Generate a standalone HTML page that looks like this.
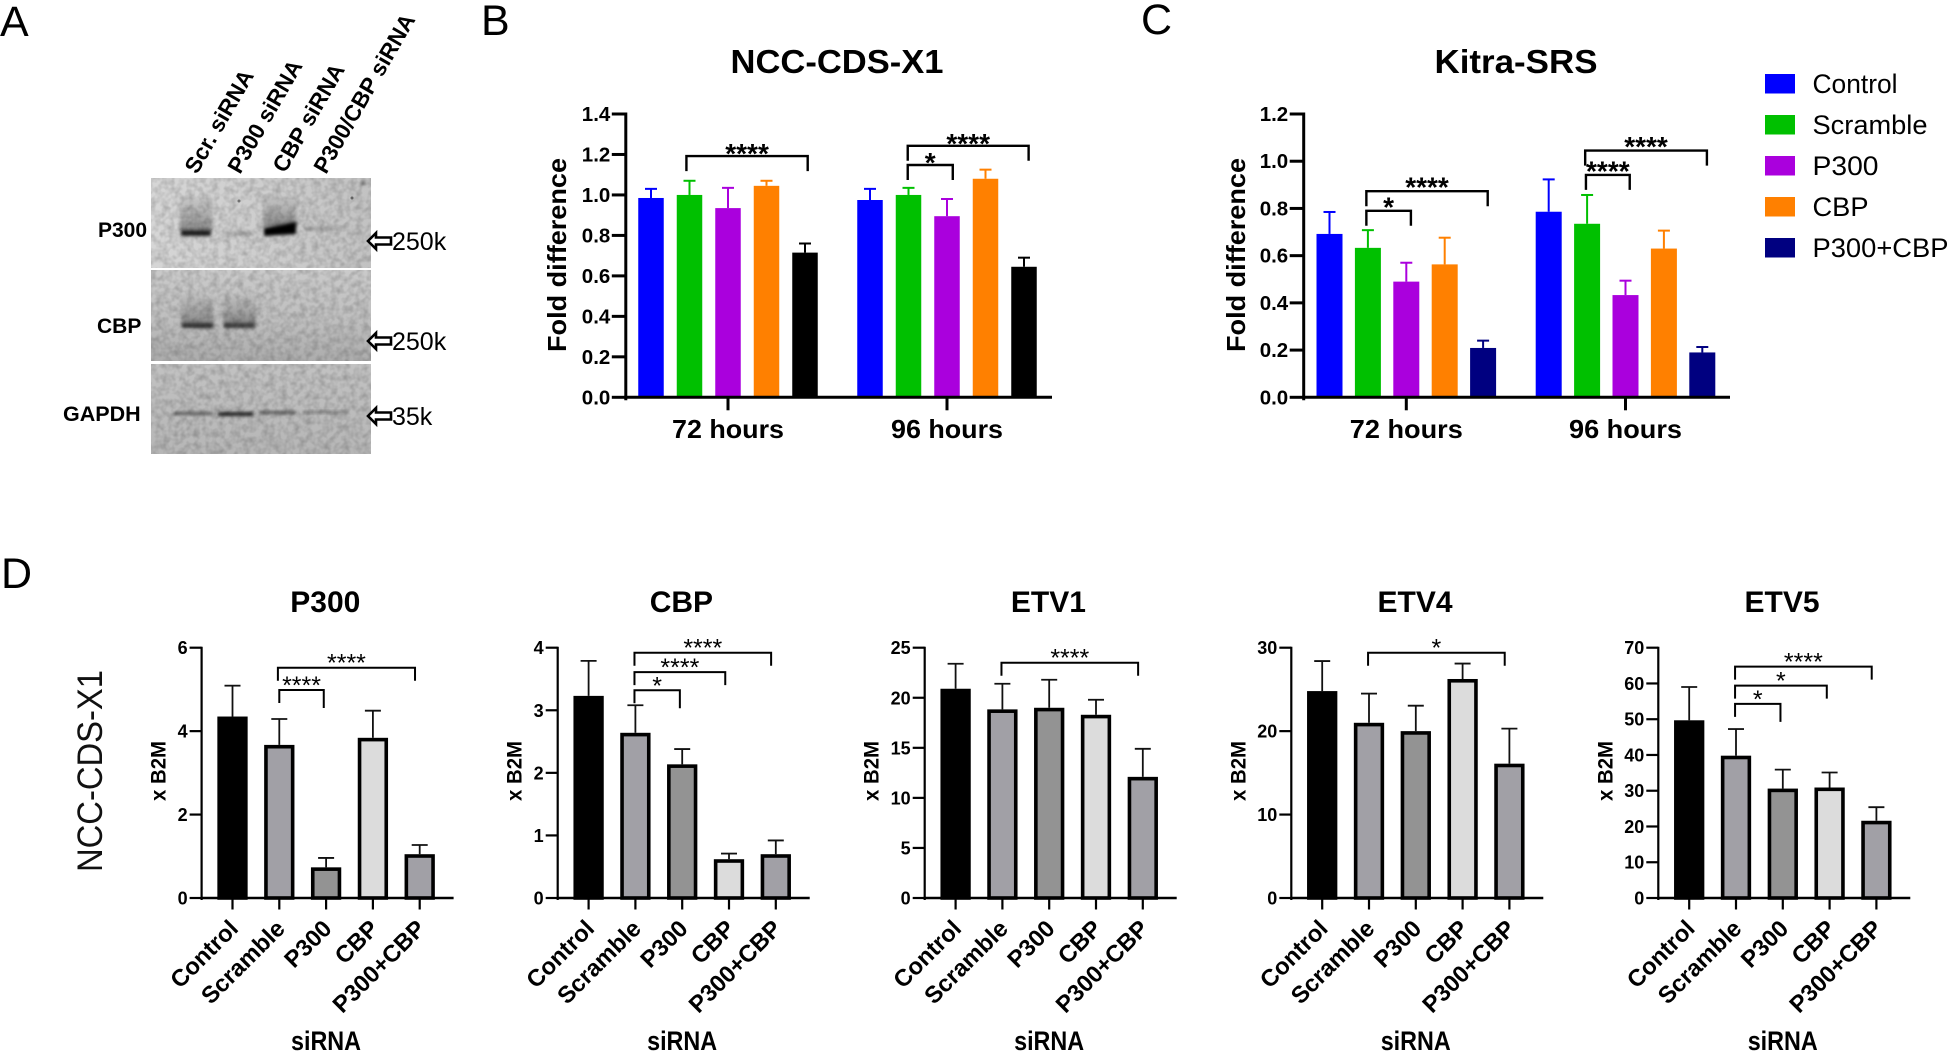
<!DOCTYPE html>
<html lang="en">
<head>
<meta charset="utf-8">
<title>NCC-CDS-X1 and Kitra-SRS siRNA figure</title>
<style>
html,body{margin:0;padding:0;background:#fff;width:1950px;height:1051px;overflow:hidden}
svg{display:block}
text{font-family:"Liberation Sans",Arial,sans-serif;fill:#000}
.b{font-weight:bold}
</style>
</head>
<body>
<svg id="figure" xmlns="http://www.w3.org/2000/svg" width="1950" height="1051" viewBox="0 0 1950 1051">
  <defs>
    <filter id="blur2" x="-30%" y="-80%" width="160%" height="260%"><feGaussianBlur stdDeviation="1.5"/></filter>
    <filter id="blur4" x="-30%" y="-60%" width="160%" height="220%"><feGaussianBlur stdDeviation="3.5"/></filter>
    <filter id="grain" x="0" y="0" width="100%" height="100%" color-interpolation-filters="sRGB">
      <feTurbulence type="fractalNoise" baseFrequency="0.16" numOctaves="2" seed="4"/>
      <feColorMatrix type="matrix" values="0 0 0 0 0  0 0 0 0 0  0 0 0 0 0  0.35 0 0 0 -0.12"/>
    </filter>
    <linearGradient id="g1" x1="0" y1="0" x2="1" y2="0"><stop offset="0" stop-color="#d6d6d6"/><stop offset=".5" stop-color="#cecece"/><stop offset="1" stop-color="#c2c2c2"/></linearGradient>
    <linearGradient id="g2" x1="0" y1="0" x2="0" y2="1"><stop offset="0" stop-color="#cacaca"/><stop offset=".55" stop-color="#bfbfbf"/><stop offset="1" stop-color="#acacac"/></linearGradient>
    <linearGradient id="g3" x1="0" y1="0" x2="0" y2="1"><stop offset="0" stop-color="#c2c2c2"/><stop offset=".6" stop-color="#bbbbbb"/><stop offset="1" stop-color="#b6b6b6"/></linearGradient>
    <linearGradient id="smear" x1="0" y1="0" x2="0" y2="1"><stop offset="0" stop-color="#aaa" stop-opacity=".3"/><stop offset="1" stop-color="#777" stop-opacity=".85"/></linearGradient>
    <clipPath id="c1"><rect x="151" y="178" width="220" height="90"/></clipPath>
    <clipPath id="c2"><rect x="151" y="270" width="220" height="91"/></clipPath>
    <clipPath id="c3"><rect x="151" y="364" width="220" height="90"/></clipPath>
  </defs>

  <g>
    <text x="0" y="36" font-size="43">A</text>
    <text x="481" y="35" font-size="43">B</text>
    <text x="1141" y="34" font-size="43">C</text>
    <text x="1" y="588" font-size="43">D</text>
  </g>

  <g id="western-blot">
    <g class="b" font-size="22.5" font-weight="bold">
      <text class="b" transform="translate(197,175) rotate(-60)">Scr. siRNA</text>
      <text class="b" transform="translate(240,175) rotate(-60)">P300 siRNA</text>
      <text class="b" transform="translate(285,174) rotate(-60)">CBP siRNA</text>
      <text class="b" transform="translate(326,175) rotate(-60)">P300/CBP siRNA</text>
    </g>

    <g clip-path="url(#c1)">
      <rect x="151" y="178" width="220" height="90" fill="url(#g1)"/>
      <rect x="180" y="197" width="32" height="34" fill="url(#smear)" filter="url(#blur2)"/>
      <rect x="263" y="197" width="34" height="30" fill="url(#smear)" filter="url(#blur2)"/>
      <rect x="181" y="230" width="30" height="6" fill="#1c1c1c" filter="url(#blur2)"/>
      <path d="M264 228 L296 222 L296 234 L264 236 Z" fill="#000" filter="url(#blur2)"/>
      <rect x="224" y="231" width="30" height="5" fill="#adadad" filter="url(#blur2)"/>
      <rect x="304" y="226" width="38" height="5" fill="#a8a8a8" filter="url(#blur2)"/>
      <circle cx="363" cy="183" r="2" fill="#555" filter="url(#blur2)"/>
      <circle cx="352" cy="198" r="1.5" fill="#666"/>
      <circle cx="239" cy="201" r="1.5" fill="#777"/>
      <rect x="151" y="178" width="220" height="90" filter="url(#grain)"/>
    </g>
    <g clip-path="url(#c2)">
      <rect x="151" y="270" width="220" height="91" fill="url(#g2)"/>
      <rect x="181" y="295" width="33" height="30" fill="url(#smear)" filter="url(#blur2)"/>
      <rect x="223" y="295" width="33" height="30" fill="url(#smear)" filter="url(#blur2)"/>
      <rect x="182" y="323" width="31" height="5" fill="#333" filter="url(#blur2)"/>
      <rect x="224" y="323" width="31" height="5" fill="#3a3a3a" filter="url(#blur2)"/>
      <rect x="151" y="270" width="220" height="91" filter="url(#grain)"/>
    </g>
    <g clip-path="url(#c3)">
      <rect x="151" y="364" width="220" height="90" fill="url(#g3)"/>
      <rect x="174" y="412" width="38" height="3" fill="#555" filter="url(#blur2)"/>
      <rect x="218" y="412" width="35" height="4" fill="#222" filter="url(#blur2)"/>
      <rect x="259" y="411" width="37" height="3" fill="#555" filter="url(#blur2)"/>
      <rect x="303" y="411" width="44" height="2.5" fill="#777" filter="url(#blur2)"/>
      <rect x="151" y="364" width="220" height="90" filter="url(#grain)"/>
    </g>

    <g fill="#fff" stroke="#000" stroke-width="2.6">
      <path d="M368 241 L376 233 L376 237.5 L391 237.5 L391 244.5 L376 244.5 L376 249 Z"/>
      <path d="M368 341 L376 333 L376 337.5 L391 337.5 L391 344.5 L376 344.5 L376 349 Z"/>
      <path d="M368 416 L376 408 L376 412.5 L391 412.5 L391 419.5 L376 419.5 L376 424 Z"/>
    </g>
    <text x="392" y="250" font-size="25">250k</text>
    <text x="392" y="350" font-size="25">250k</text>
    <text x="392" y="425" font-size="25">35k</text>

    <text class="b" x="98" y="237" font-size="21">P300</text>
    <text class="b" x="97" y="333" font-size="21">CBP</text>
    <text class="b" x="63" y="421" font-size="21.5">GAPDH</text>
  </g>

  <g id="legend"></g>
  <g id="panel-b"></g>
  <g id="panel-c"></g>
  <g id="panel-d">
    <text class="x" transform="translate(102,771) rotate(-90)" text-anchor="middle" font-size="35" textLength="202" lengthAdjust="spacingAndGlyphs" style="fill:#111">NCC-CDS-X1</text>
  </g>
</svg>

<script>
// ---------- Shared categories ----------
const groupLabels = ['72 hours', '96 hours'];
const treatmentNames = ['Control', 'Scramble', 'P300', 'CBP', 'P300+CBP'];

// ---------- Panel B: NCC-CDS-X1 ----------
const nccTicks = ['0.0', '0.2', '0.4', '0.6', '0.8', '1.0', '1.2', '1.4'];
const nccMeans72 = [0.985, 1.0, 0.935, 1.045, 0.715];
const nccUpper72 = [1.03, 1.07, 1.035, 1.07, 0.76];
const nccMeans96 = [0.975, 1.0, 0.895, 1.08, 0.645];
const nccUpper96 = [1.03, 1.035, 0.98, 1.125, 0.69];
const nccBrackets = [
  { group: 0, from: 0.92, to: 4.07, level: 1.192, label: '****' },
  { group: 1, from: 0.98, to: 4.12, level: 1.243, label: '****' },
  { group: 1, from: 0.98, to: 2.15, level: 1.148, label: '*' }
];

// ---------- Panel C: Kitra-SRS ----------
const kitraTicks = ['0.0', '0.2', '0.4', '0.6', '0.8', '1.0', '1.2'];
const kitraMeans72 = [0.692, 0.633, 0.49, 0.563, 0.209];
const kitraUpper72 = [0.785, 0.708, 0.57, 0.676, 0.24];
const kitraMeans96 = [0.786, 0.735, 0.433, 0.63, 0.19];
const kitraUpper96 = [0.923, 0.857, 0.494, 0.706, 0.213];
const kitraBrackets = [
  { group: 0, from: 0.96, to: 4.12, level: 0.873, label: '****' },
  { group: 0, from: 0.96, to: 2.12, level: 0.79, label: '*' },
  { group: 1, from: 0.95, to: 4.12, level: 1.045, label: '****' },
  { group: 1, from: 0.97, to: 2.11, level: 0.942, label: '****' }
];

// ---------- Panel D: expression charts ----------
const p300Ticks = ['0', '2', '4', '6'];
const p300Means = [4.35, 3.67, 0.735, 3.84, 1.05];
const p300Upper = [5.09, 4.29, 0.96, 4.49, 1.27];
const p300Brackets = [
  { from: 0.97, to: 3.9, level: 5.52, label: '****' },
  { from: 1.0, to: 1.95, level: 4.985, label: '****' }
];

const cbpTicks = ['0', '1', '2', '3', '4'];
const cbpMeans = [3.23, 2.64, 2.136, 0.62, 0.7];
const cbpUpper = [3.79, 3.08, 2.38, 0.71, 0.92];
const cbpBrackets = [
  { from: 0.98, to: 3.9, level: 3.92, label: '****' },
  { from: 0.98, to: 2.92, level: 3.61, label: '****' },
  { from: 0.98, to: 1.95, level: 3.32, label: '*' }
];

const etv1Ticks = ['0', '5', '10', '15', '20', '25'];
const etv1Means = [20.9, 18.84, 19.0, 18.3, 12.1];
const etv1Upper = [23.4, 21.4, 21.8, 19.8, 14.9];
const etv1Brackets = [
  { from: 0.98, to: 3.9, level: 23.5, label: '****' }
];

const etv4Ticks = ['0', '10', '20', '30'];
const etv4Means = [24.8, 21.0, 20.0, 26.25, 16.1];
const etv4Upper = [28.4, 24.5, 23.05, 28.1, 20.3];
const etv4Brackets = [
  { from: 0.98, to: 3.9, level: 29.4, label: '*' }
];

const etv5Ticks = ['0', '10', '20', '30', '40', '50', '60', '70'];
const etv5Means = [49.7, 39.8, 30.6, 30.9, 21.6];
const etv5Upper = [59.0, 47.25, 35.9, 35.1, 25.4];
const etv5Brackets = [
  { from: 0.98, to: 3.9, level: 64.7, label: '****' },
  { from: 0.98, to: 2.94, level: 59.4, label: '*' },
  { from: 0.98, to: 1.95, level: 54.3, label: '*' }
];

// ---------- Drawing helpers ----------
const SVGNS = 'http://www.w3.org/2000/svg';
function svgEl(parent, tag, attrs, text) {
  const node = document.createElementNS(SVGNS, tag);
  for (const key in attrs) node.setAttribute(key, attrs[key]);
  if (text !== undefined) node.textContent = text;
  parent.appendChild(node);
  return node;
}
function slug(s) {
  return String(s).toLowerCase().replace(/\+/g, '-plus-').replace(/\*/g, 'star').replace(/[^a-z0-9]+/g, '-');
}
function linearScale(domainMax, pixelZero, pixelMax) {
  return function (v) { return pixelZero - (v / domainMax) * (pixelZero - pixelMax); };
}

function drawBracket(parent, x1, x2, top, dropL, dropR, label, starSize, starOffset, sw, starWeight) {
  const group = svgEl(parent, 'g', {});
  
  
  const path = svgEl(group, 'path', {
    d: 'M' + x1 + ' ' + (top + dropL) + ' V' + top + ' H' + x2 + ' V' + (top + dropR),
    fill: 'none', stroke: '#000', 'stroke-width': sw
  });
  
  
  const star = svgEl(group, 'text', {
    x: (x1 + x2) / 2, y: top + starOffset, 'text-anchor': 'middle', 'font-size': starSize, 'font-weight': starWeight
  }, label);
  
  
}

// ---------- Grouped chart (panels B, C) ----------
function drawGroupedChart(host, c) {
  const maxVal = Number(c.ticks[c.ticks.length - 1]);
  const y = linearScale(maxVal, c.y0, c.yTop);
  const barX = function (g, i) { return c.groupCenters[g] + (i - 2) * c.step; };

  const title = svgEl(host, 'text', {
    x: c.titleX, y: 73, 'text-anchor': 'middle', 'font-size': 33.5, 'font-weight': 'bold',
    textLength: c.titleLen, lengthAdjust: 'spacingAndGlyphs'
  }, c.title);
  
  

  const yTitle = svgEl(host, 'text', {
    transform: 'translate(' + c.yTitleX + ',255) rotate(-90)', 'text-anchor': 'middle',
    'font-size': 26, 'font-weight': 'bold', textLength: 194, lengthAdjust: 'spacingAndGlyphs'
  }, 'Fold difference');
  
  

  c.series.forEach(function (means, g) {
    means.forEach(function (m, i) {
      const cx = barX(g, i);
      const col = c.colors[i];
      const top = y(m);
      const err = y(c.upper[g][i]);
      const stem = svgEl(host, 'line', { x1: cx, x2: cx, y1: top, y2: err, stroke: col, 'stroke-width': 2 });
      
      
      const cap = svgEl(host, 'line', { x1: cx - 6, x2: cx + 6, y1: err, y2: err, stroke: col, 'stroke-width': 2 });
      
      
      const bar = svgEl(host, 'rect', { x: cx - c.barW / 2, y: top, width: c.barW, height: c.y0 - top, fill: col });
      
      
    });
  });

  const yAxis = svgEl(host, 'line', { x1: c.axisX, x2: c.axisX, y1: c.yTop - 1.5, y2: c.y0 + 3, stroke: '#000', 'stroke-width': 3 });
  
  
  const xAxis = svgEl(host, 'line', { x1: c.axisX - 1.5, x2: c.xEnd, y1: c.y0, y2: c.y0, stroke: '#000', 'stroke-width': 3 });
  
  

  c.ticks.forEach(function (t) {
    const ty = y(Number(t));
    const tick = svgEl(host, 'line', { x1: c.axisX - 14, x2: c.axisX, y1: ty, y2: ty, stroke: '#000', 'stroke-width': 3 });
    
    
    const lab = svgEl(host, 'text', {
      x: c.axisX - 15.5, y: ty + 7, 'text-anchor': 'end', 'font-size': c.tickSize, 'font-weight': 'bold'
    }, t);
    
    
  });

  groupLabels.forEach(function (g, gi) {
    const gx = c.groupCenters[gi];
    const tick = svgEl(host, 'line', { x1: gx, x2: gx, y1: c.y0, y2: c.y0 + 13, stroke: '#000', 'stroke-width': 3 });
    
    
    const lab = svgEl(host, 'text', {
      x: gx, y: 438, 'text-anchor': 'middle', 'font-size': 26, 'font-weight': 'bold',
      textLength: c.groupLabelLen, lengthAdjust: 'spacingAndGlyphs'
    }, g);
    
    
  });

  c.brackets.forEach(function (b) {
    drawBracket(host, barX(b.group, b.from), barX(b.group, b.to), y(b.level), 15, 15, b.label, c.starSize, c.starOffset, 2.4, 'bold');
  });
}

drawGroupedChart(document.getElementById('panel-b'), {
  title: 'NCC-CDS-X1', titleX: 837, titleLen: 213, yTitleX: 566,
  axisX: 625.8, xEnd: 1052, y0: 397.3, yTop: 114,
  groupCenters: [728, 947], step: 38.5, barW: 25.5,
  ticks: nccTicks, series: [nccMeans72, nccMeans96], upper: [nccUpper72, nccUpper96],
  colors: ['#0000ff', '#00c000', '#aa00dd', '#ff8000', '#000000'],
  brackets: nccBrackets, tickSize: 20.5, groupLabelLen: 112, starSize: 28, starOffset: 7
});
drawGroupedChart(document.getElementById('panel-c'), {
  title: 'Kitra-SRS', titleX: 1516, titleLen: 163, yTitleX: 1245,
  axisX: 1303.7, xEnd: 1730, y0: 397.3, yTop: 114,
  groupCenters: [1406.3, 1625.5], step: 38.4, barW: 26,
  ticks: kitraTicks, series: [kitraMeans72, kitraMeans96], upper: [kitraUpper72, kitraUpper96],
  colors: ['#0000ff', '#00c000', '#aa00dd', '#ff8000', '#000080'],
  brackets: kitraBrackets, tickSize: 20.5, groupLabelLen: 113, starSize: 28, starOffset: 5.5
});

// ---------- Legend ----------
const legendHost = document.getElementById('legend');
const legendColors = ['#0000ff', '#00c000', '#aa00dd', '#ff8000', '#000080'];
const legendWidths = [85, 115, 66, 56, 136];
treatmentNames.forEach(function (name, i) {
  const rowY = 74 + i * 41;
  const swatch = svgEl(legendHost, 'rect', { x: 1765, y: rowY, width: 30, height: 19.5, fill: legendColors[i] });
  
  
  const label = svgEl(legendHost, 'text', {
    x: 1812.5, y: rowY + 19, 'font-size': 26.5, textLength: legendWidths[i], lengthAdjust: 'spacingAndGlyphs'
  }, name);
  
  
});

// ---------- Single-group charts (panel D) ----------
const barFills = ['#000000', '#a1a0a6', '#939393', '#dcdcdc', '#a1a0a6'];
function drawExpressionChart(host, c) {
  const y0 = 898, yTop = 647.7, step = 46.8, barW = 30.3, sw = 3.6;
  const maxVal = Number(c.ticks[c.ticks.length - 1]);
  const y = linearScale(maxVal, y0, yTop);
  const barX = function (i) { return c.axisX + 30.9 + i * step; };

  const chart = svgEl(host, 'g', {});
  
  

  const title = svgEl(chart, 'text', {
    x: c.axisX + 123.7, y: 612, 'text-anchor': 'middle', 'font-size': 30, 'font-weight': 'bold'
  }, c.title);
  
  

  const hasTwoDigitTicks = c.ticks[c.ticks.length - 1].length > 1;
  const yTitle = svgEl(chart, 'text', {
    transform: 'translate(' + (c.axisX - (hasTwoDigitTicks ? 46 : 36)) + ',771) rotate(-90)',
    'text-anchor': 'middle', 'font-size': 21, 'font-weight': 'bold', textLength: 60, lengthAdjust: 'spacingAndGlyphs'
  }, 'x B2M');
  
  

  c.means.forEach(function (m, i) {
    const cx = barX(i);
    const top = y(m);
    const err = y(c.upper[i]);
    const stem = svgEl(chart, 'line', { x1: cx, x2: cx, y1: top, y2: err, stroke: '#111', 'stroke-width': 1.8 });
    
    
    const cap = svgEl(chart, 'line', { x1: cx - 8, x2: cx + 8, y1: err, y2: err, stroke: '#111', 'stroke-width': 1.8 });
    
    
    const bar = svgEl(chart, 'rect', {
      x: cx - barW / 2 + sw / 2, y: top + sw / 2, width: barW - sw, height: y0 - top - sw / 2,
      fill: barFills[i], stroke: '#000', 'stroke-width': sw
    });
    
    
  });

  const yAxis = svgEl(chart, 'line', { x1: c.axisX, x2: c.axisX, y1: yTop - 1, y2: y0 + 2, stroke: '#000', 'stroke-width': 2.2 });
  
  
  const xAxis = svgEl(chart, 'line', { x1: c.axisX - 1, x2: c.axisX + 252, y1: y0, y2: y0, stroke: '#000', 'stroke-width': 2.6 });
  
  

  c.ticks.forEach(function (t) {
    const ty = y(Number(t));
    const tick = svgEl(chart, 'line', { x1: c.axisX - 12, x2: c.axisX, y1: ty, y2: ty, stroke: '#000', 'stroke-width': 2.2 });
    
    
    const lab = svgEl(chart, 'text', {
      x: c.axisX - 14, y: ty + 6.5, 'text-anchor': 'end', 'font-size': 18, 'font-weight': 'bold'
    }, t);
    
    
  });

  treatmentNames.forEach(function (name, i) {
    const cx = barX(i);
    const tick = svgEl(chart, 'line', { x1: cx, x2: cx, y1: y0, y2: y0 + 11.5, stroke: '#000', 'stroke-width': 2.2 });
    
    
    const lab = svgEl(chart, 'text', {
      transform: 'translate(' + (cx + 7) + ',930) rotate(-45)', 'text-anchor': 'end', 'font-size': 23.7, 'font-weight': 'bold'
    }, name);
    
    
  });

  const xTitle = svgEl(chart, 'text', {
    x: c.axisX + 124.4, y: 1050, 'text-anchor': 'middle', 'font-size': 27, 'font-weight': 'bold',
    textLength: 70, lengthAdjust: 'spacingAndGlyphs'
  }, 'siRNA');
  
  

  c.brackets.forEach(function (b) {
    const dropR = (b.to - b.from) < 1.2 ? 18 : 13;
    drawBracket(chart, barX(b.from), barX(b.to), y(b.level), 13, dropR, b.label, 25, 4, 2, 'normal');
  });
}

const panelD = document.getElementById('panel-d');
drawExpressionChart(panelD, { title: 'P300', axisX: 201.6, ticks: p300Ticks, means: p300Means, upper: p300Upper, brackets: p300Brackets });
drawExpressionChart(panelD, { title: 'CBP', axisX: 557.7, ticks: cbpTicks, means: cbpMeans, upper: cbpUpper, brackets: cbpBrackets });
drawExpressionChart(panelD, { title: 'ETV1', axisX: 924.7, ticks: etv1Ticks, means: etv1Means, upper: etv1Upper, brackets: etv1Brackets });
drawExpressionChart(panelD, { title: 'ETV4', axisX: 1291.3, ticks: etv4Ticks, means: etv4Means, upper: etv4Upper, brackets: etv4Brackets });
drawExpressionChart(panelD, { title: 'ETV5', axisX: 1658.3, ticks: etv5Ticks, means: etv5Means, upper: etv5Upper, brackets: etv5Brackets });
</script>
</body>
</html>
